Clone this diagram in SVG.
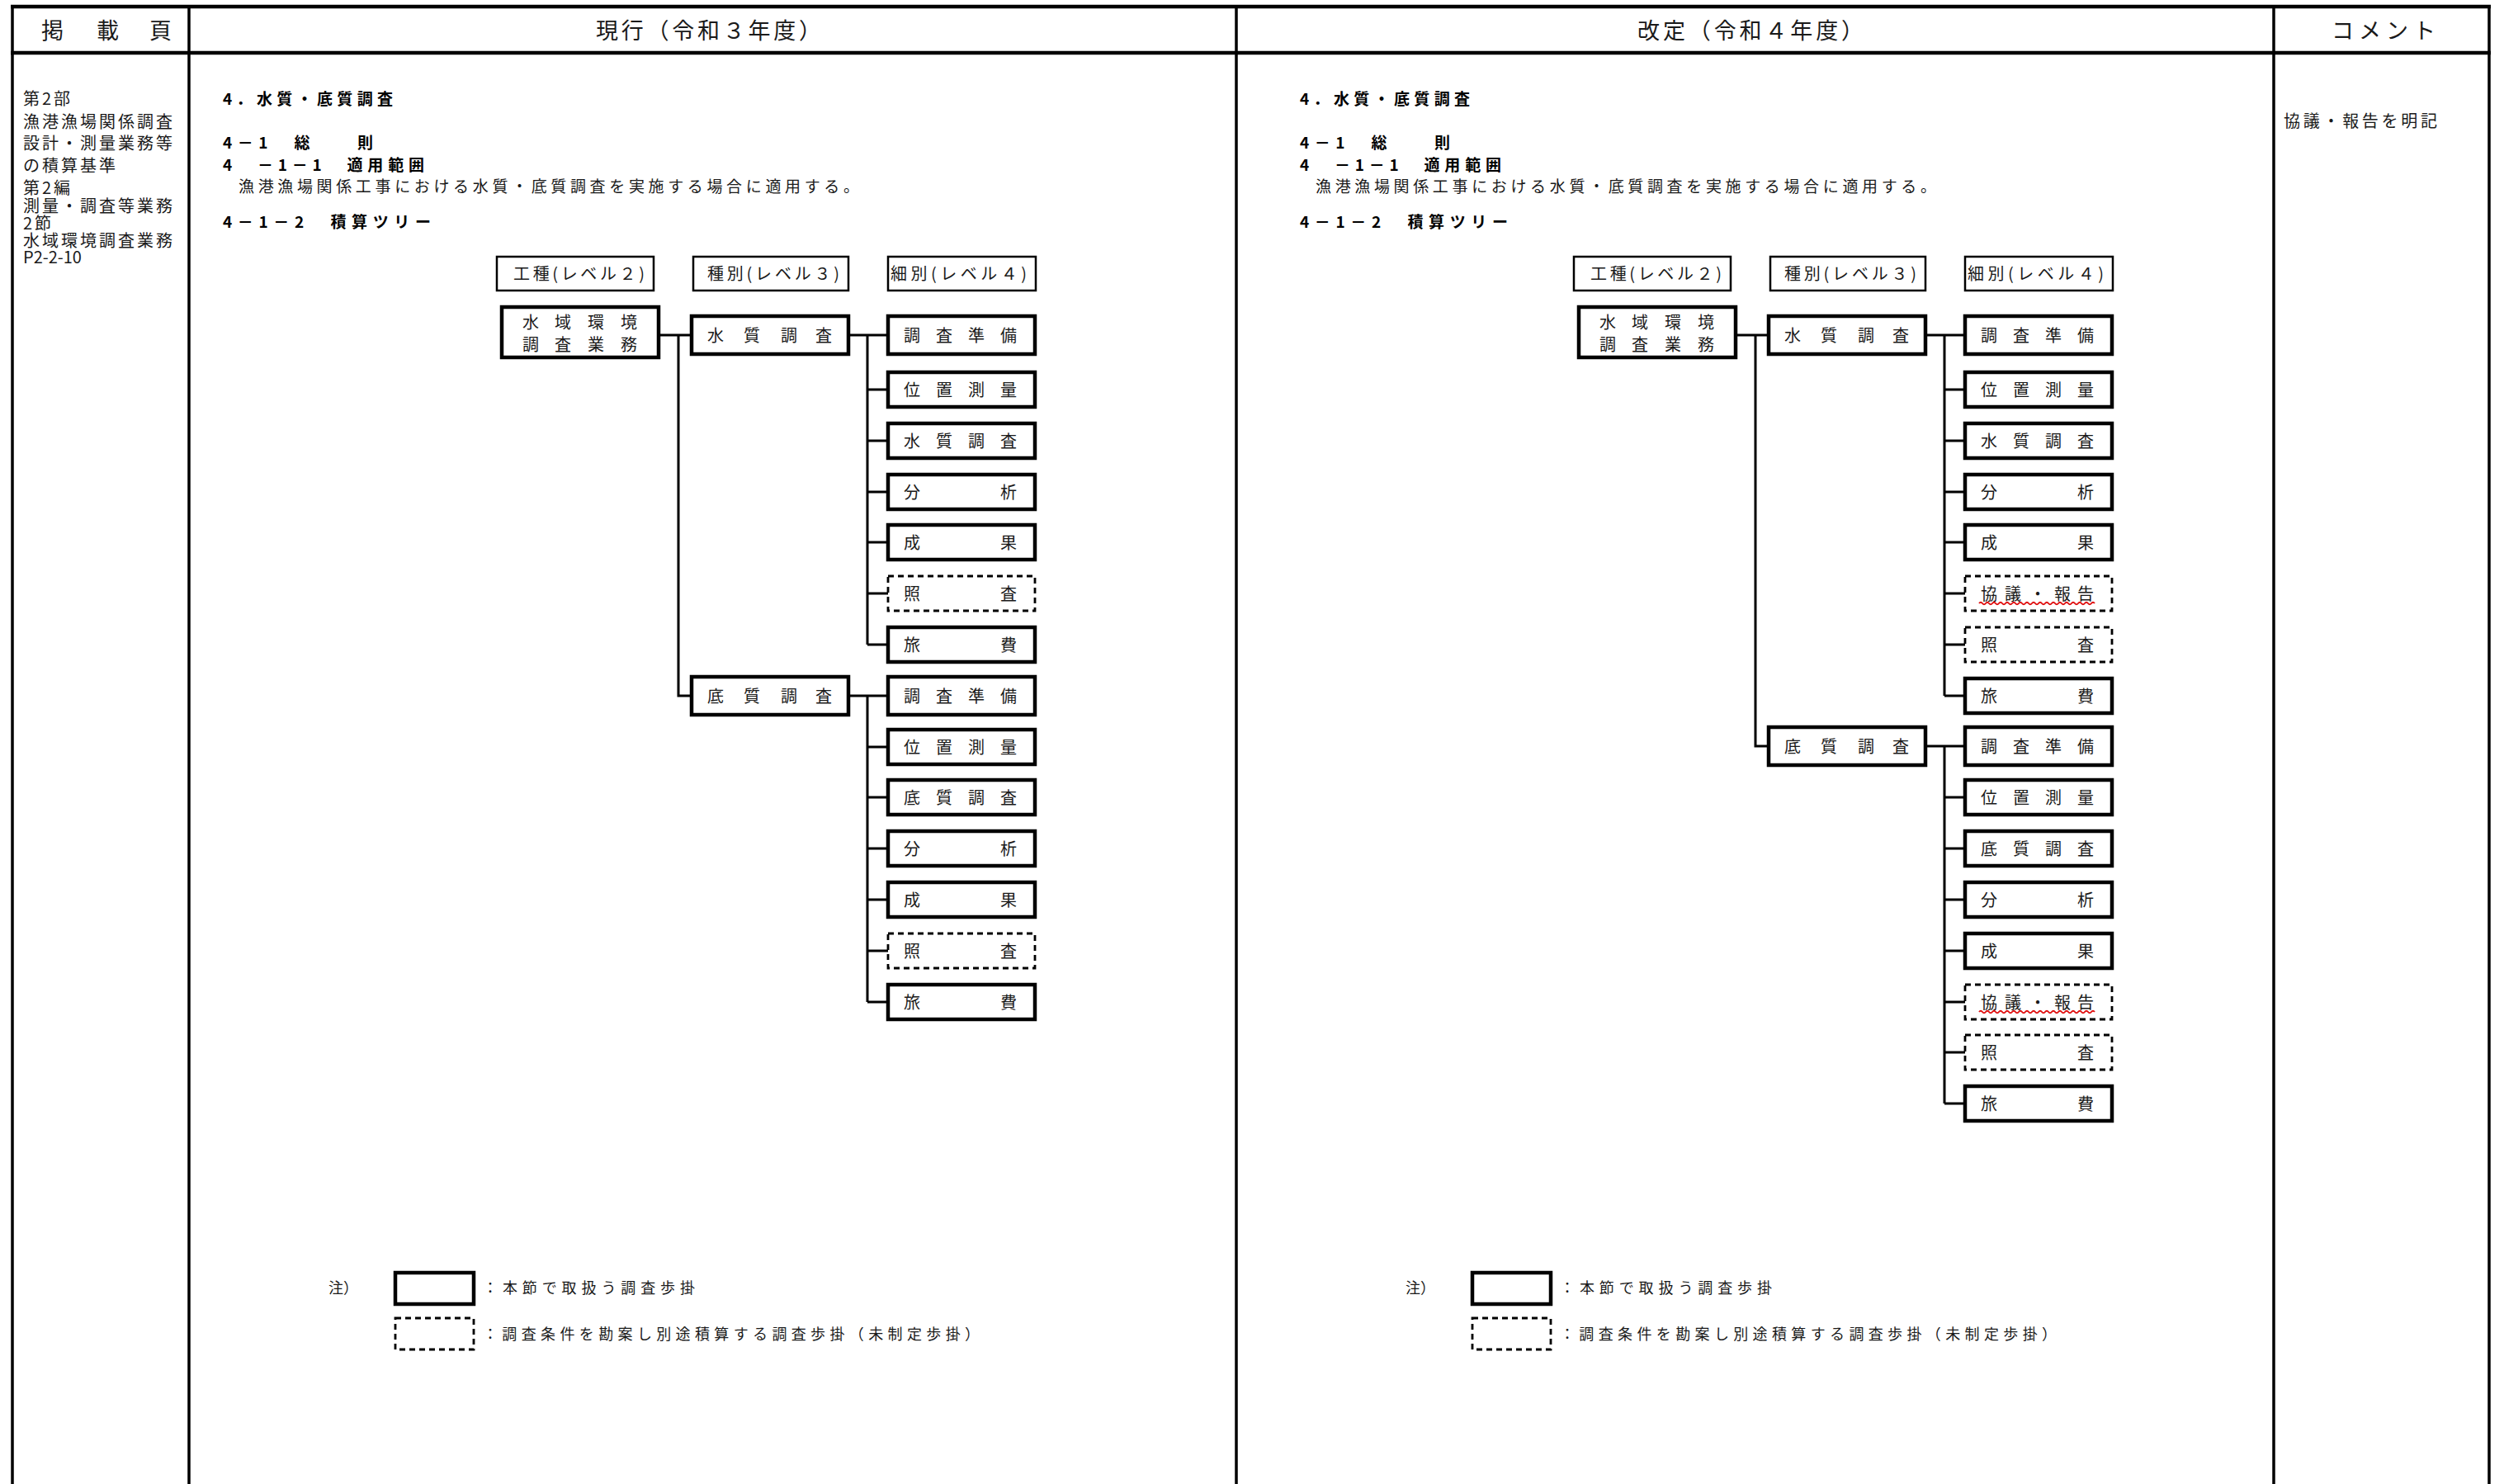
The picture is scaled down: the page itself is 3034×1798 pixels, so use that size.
<svg xmlns="http://www.w3.org/2000/svg" width="3034" height="1798" viewBox="0 0 3034 1798">
<style>
.frame{stroke:#000;stroke-width:3.5;fill:none}
.fthick{stroke:#000;stroke-width:4.5;fill:none}
.hb{fill:#fff;stroke:#000;stroke-width:2.5}
.nb{fill:#fff;stroke:#000;stroke-width:4.5}
.db{fill:#fff;stroke:#000;stroke-width:2.8;stroke-dasharray:7 5}
.cn{stroke:#000;stroke-width:3;fill:none}
.m{font-family:"Noto Sans CJK JP","Noto Sans CJK SC",sans-serif;fill:#1a1a1a}
.g{font-family:"Noto Sans CJK JP","Noto Sans CJK SC",sans-serif;font-weight:bold;fill:#000;font-size:19px}
.bt{font-size:20px}
.hd{font-size:27px}
.lc{font-size:20px;letter-spacing:3px}
.wv{stroke:#e01010;stroke-width:2;fill:none}
</style>
<rect x="0" y="0" width="3034" height="1798" fill="#fff"/>
<g id="frame">
<path class="fthick" d="M13 8H3018M13 64H3018"/>
<path class="frame" d="M15 8V1798M229 8V1798M1498 8V1798M2755 8V1798M3016 8V1798"/>
</g>
<g id="header">
<text class="m hd" x="50 117 181" y="47">掲載頁</text>
<text class="m hd" x="722" y="47" textLength="273" lengthAdjust="spacing">現行（令和３年度）</text>
<text class="m hd" x="1984" y="47" textLength="274" lengthAdjust="spacing">改定（令和４年度）</text>
<text class="m hd" x="2825" y="47" textLength="126" lengthAdjust="spacing">コメント</text>
</g>
<g id="page-ref">
<text class="m lc" x="28" y="127">第2部</text>
<text class="m lc" x="28" y="154.5">漁港漁場関係調査</text>
<text class="m lc" x="28" y="181">設計・測量業務等</text>
<text class="m lc" x="28" y="208">の積算基準</text>
<text class="m lc" x="28" y="235">第2編</text>
<text class="m lc" x="28" y="257">測量・調査等業務</text>
<text class="m lc" x="28" y="278">2節</text>
<text class="m lc" x="28" y="299">水域環境調査業務</text>
<text class="m" x="28" y="319" font-size="20">P2-2-10</text>
</g>
<g id="comment">
<text class="m" x="2767" y="154" font-size="20" textLength="186" lengthAdjust="spacing">協議・報告を明記</text>
</g>
<defs>
<g id="intro">
<text class="g" x="270" y="127" textLength="206" lengthAdjust="spacing">4．水質・底質調査</text>
<text class="g" x="270" y="180" textLength="182" lengthAdjust="spacing">4－1　総　　則</text>
<text class="g" x="270" y="207" textLength="244" lengthAdjust="spacing">4　－1－1　適用範囲</text>
<text class="m" x="289" y="233" font-size="19" textLength="752" lengthAdjust="spacing">漁港漁場関係工事における水質・底質調査を実施する場合に適用する。</text>
<text class="g" x="270" y="276" textLength="252" lengthAdjust="spacing">4－1－2　積算ツリー</text>
</g>
<g id="levels">
<rect class="hb" x="602" y="311" width="190" height="41"/>
<text class="m bt" x="622" y="339" textLength="159" lengthAdjust="spacing">工種(レベル２)</text>
<rect class="hb" x="840" y="311" width="188" height="41"/>
<text class="m bt" x="857" y="339" textLength="160" lengthAdjust="spacing">種別(レベル３)</text>
<rect class="hb" x="1076" y="311" width="179" height="41"/>
<text class="m bt" x="1079" y="339" textLength="165" lengthAdjust="spacing">細別(レベル４)</text>
</g>
<g id="legend">
<text class="m" x="398" y="1566.5" font-size="18">注）</text>
<rect class="nb" x="479" y="1542" width="95" height="38"/>
<text class="m" x="585" y="1566.5" font-size="18" textLength="257" lengthAdjust="spacing">：本節で取扱う調査歩掛</text>
<rect class="db" x="479" y="1597" width="95" height="38"/>
<text class="m" x="585" y="1622.5" font-size="18" textLength="602" lengthAdjust="spacing">：調査条件を勘案し別途積算する調査歩掛（未制定歩掛）</text>
</g>
</defs>
<g id="current">
<use href="#intro"/>
<use href="#levels"/>
<use href="#legend"/>
<g id="cur-connectors">
<path class="cn" d="M798 406H838M822 406V843H838"/>
<path class="cn" d="M1028 406H1076M1051 406V781M1051 472H1076M1051 534H1076M1051 596H1076M1051 657H1076M1051 719H1076M1051 781H1076"/>
<path class="cn" d="M1028 843H1076M1051 843V1214M1051 905H1076M1051 966H1076M1051 1028H1076M1051 1090H1076M1051 1152H1076M1051 1214H1076"/>
</g>
<g id="cur-l2"><rect class="nb" x="608" y="372" width="190" height="61"/><text class="m bt" x="633 672 712 752" y="397.5">水域環境</text><text class="m bt" x="633 672 712 752" y="424.5">調査業務</text></g>
<g id="cur-l3-water"><rect class="nb" x="838" y="383" width="190" height="46"/><text class="m bt" x="857 901 946 988" y="413.5">水質調査</text></g>
<g id="cur-l3-sed"><rect class="nb" x="838" y="820" width="190" height="46"/><text class="m bt" x="857 901 946 988" y="850.5">底質調査</text></g>
<g id="cur-w1"><rect class="nb" x="1076" y="383" width="178" height="46"/><text class="m bt" x="1095 1134 1173 1212" y="413.5">調査準備</text></g>
<g id="cur-w2"><rect class="nb" x="1076" y="451" width="178" height="42"/><text class="m bt" x="1095 1134 1173 1212" y="479.5">位置測量</text></g>
<g id="cur-w3"><rect class="nb" x="1076" y="513" width="178" height="42"/><text class="m bt" x="1095 1134 1173 1212" y="541.5">水質調査</text></g>
<g id="cur-w4"><rect class="nb" x="1076" y="575" width="178" height="42"/><text class="m bt" x="1095 1212" y="603.5">分析</text></g>
<g id="cur-w5"><rect class="nb" x="1076" y="636" width="178" height="42"/><text class="m bt" x="1095 1212" y="664.5">成果</text></g>
<g id="cur-w6"><rect class="db" x="1076" y="698" width="178" height="42"/><text class="m bt" x="1095 1212" y="726.5">照査</text></g>
<g id="cur-w7"><rect class="nb" x="1076" y="760" width="178" height="42"/><text class="m bt" x="1095 1212" y="788.5">旅費</text></g>
<g id="cur-s1"><rect class="nb" x="1076" y="820" width="178" height="46"/><text class="m bt" x="1095 1134 1173 1212" y="850.5">調査準備</text></g>
<g id="cur-s2"><rect class="nb" x="1076" y="884" width="178" height="42"/><text class="m bt" x="1095 1134 1173 1212" y="912.5">位置測量</text></g>
<g id="cur-s3"><rect class="nb" x="1076" y="945" width="178" height="42"/><text class="m bt" x="1095 1134 1173 1212" y="973.5">底質調査</text></g>
<g id="cur-s4"><rect class="nb" x="1076" y="1007" width="178" height="42"/><text class="m bt" x="1095 1212" y="1035.5">分析</text></g>
<g id="cur-s5"><rect class="nb" x="1076" y="1069" width="178" height="42"/><text class="m bt" x="1095 1212" y="1097.5">成果</text></g>
<g id="cur-s6"><rect class="db" x="1076" y="1131" width="178" height="42"/><text class="m bt" x="1095 1212" y="1159.5">照査</text></g>
<g id="cur-s7"><rect class="nb" x="1076" y="1193" width="178" height="42"/><text class="m bt" x="1095 1212" y="1221.5">旅費</text></g>
</g>
<g id="revised" transform="translate(1305 0)">
<use href="#intro"/>
<use href="#levels"/>
<use href="#legend"/>
<g id="rev-connectors">
<path class="cn" d="M798 406H838M822 406V904H838"/>
<path class="cn" d="M1028 406H1076M1051 406V843M1051 472H1076M1051 534H1076M1051 596H1076M1051 657H1076M1051 719H1076M1051 781H1076M1051 843H1076"/>
<path class="cn" d="M1028 904H1076M1051 904V1337M1051 966H1076M1051 1028H1076M1051 1090H1076M1051 1152H1076M1051 1214H1076M1051 1275H1076M1051 1337H1076"/>
</g>
<g id="rev-l2"><rect class="nb" x="608" y="372" width="190" height="61"/><text class="m bt" x="633 672 712 752" y="397.5">水域環境</text><text class="m bt" x="633 672 712 752" y="424.5">調査業務</text></g>
<g id="rev-l3-water"><rect class="nb" x="838" y="383" width="190" height="46"/><text class="m bt" x="857 901 946 988" y="413.5">水質調査</text></g>
<g id="rev-l3-sed"><rect class="nb" x="838" y="881" width="190" height="46"/><text class="m bt" x="857 901 946 988" y="911.5">底質調査</text></g>
<g id="rev-w1"><rect class="nb" x="1076" y="383" width="178" height="46"/><text class="m bt" x="1095 1134 1173 1212" y="413.5">調査準備</text></g>
<g id="rev-w2"><rect class="nb" x="1076" y="451" width="178" height="42"/><text class="m bt" x="1095 1134 1173 1212" y="479.5">位置測量</text></g>
<g id="rev-w3"><rect class="nb" x="1076" y="513" width="178" height="42"/><text class="m bt" x="1095 1134 1173 1212" y="541.5">水質調査</text></g>
<g id="rev-w4"><rect class="nb" x="1076" y="575" width="178" height="42"/><text class="m bt" x="1095 1212" y="603.5">分析</text></g>
<g id="rev-w5"><rect class="nb" x="1076" y="636" width="178" height="42"/><text class="m bt" x="1095 1212" y="664.5">成果</text></g>
<g id="rev-w6"><rect class="db" x="1076" y="698" width="178" height="42"/><text class="m bt" x="1095 1124 1154 1184 1212" y="726.5">協議・報告</text><path class="wv" d="M1093 731q2 -2.5 4 0t4 0 t4 0 t4 0 t4 0 t4 0 t4 0 t4 0 t4 0 t4 0 t4 0 t4 0 t4 0 t4 0 t4 0 t4 0 t4 0 t4 0 t4 0 t4 0 t4 0 t4 0 t4 0 t4 0 t4 0 t4 0 t4 0 t4 0 t4 0 t4 0 t4 0 t4 0 t4 0 t4 0 t4 0"/></g>
<g id="rev-w7"><rect class="db" x="1076" y="760" width="178" height="42"/><text class="m bt" x="1095 1212" y="788.5">照査</text></g>
<g id="rev-w8"><rect class="nb" x="1076" y="822" width="178" height="42"/><text class="m bt" x="1095 1212" y="850.5">旅費</text></g>
<g id="rev-s1"><rect class="nb" x="1076" y="881" width="178" height="46"/><text class="m bt" x="1095 1134 1173 1212" y="911.5">調査準備</text></g>
<g id="rev-s2"><rect class="nb" x="1076" y="945" width="178" height="42"/><text class="m bt" x="1095 1134 1173 1212" y="973.5">位置測量</text></g>
<g id="rev-s3"><rect class="nb" x="1076" y="1007" width="178" height="42"/><text class="m bt" x="1095 1134 1173 1212" y="1035.5">底質調査</text></g>
<g id="rev-s4"><rect class="nb" x="1076" y="1069" width="178" height="42"/><text class="m bt" x="1095 1212" y="1097.5">分析</text></g>
<g id="rev-s5"><rect class="nb" x="1076" y="1131" width="178" height="42"/><text class="m bt" x="1095 1212" y="1159.5">成果</text></g>
<g id="rev-s6"><rect class="db" x="1076" y="1193" width="178" height="42"/><text class="m bt" x="1095 1124 1154 1184 1212" y="1221.5">協議・報告</text><path class="wv" d="M1093 1226q2 -2.5 4 0t4 0 t4 0 t4 0 t4 0 t4 0 t4 0 t4 0 t4 0 t4 0 t4 0 t4 0 t4 0 t4 0 t4 0 t4 0 t4 0 t4 0 t4 0 t4 0 t4 0 t4 0 t4 0 t4 0 t4 0 t4 0 t4 0 t4 0 t4 0 t4 0 t4 0 t4 0 t4 0 t4 0 t4 0"/></g>
<g id="rev-s7"><rect class="db" x="1076" y="1254" width="178" height="42"/><text class="m bt" x="1095 1212" y="1282.5">照査</text></g>
<g id="rev-s8"><rect class="nb" x="1076" y="1316" width="178" height="42"/><text class="m bt" x="1095 1212" y="1344.5">旅費</text></g>
</g>
</svg>
